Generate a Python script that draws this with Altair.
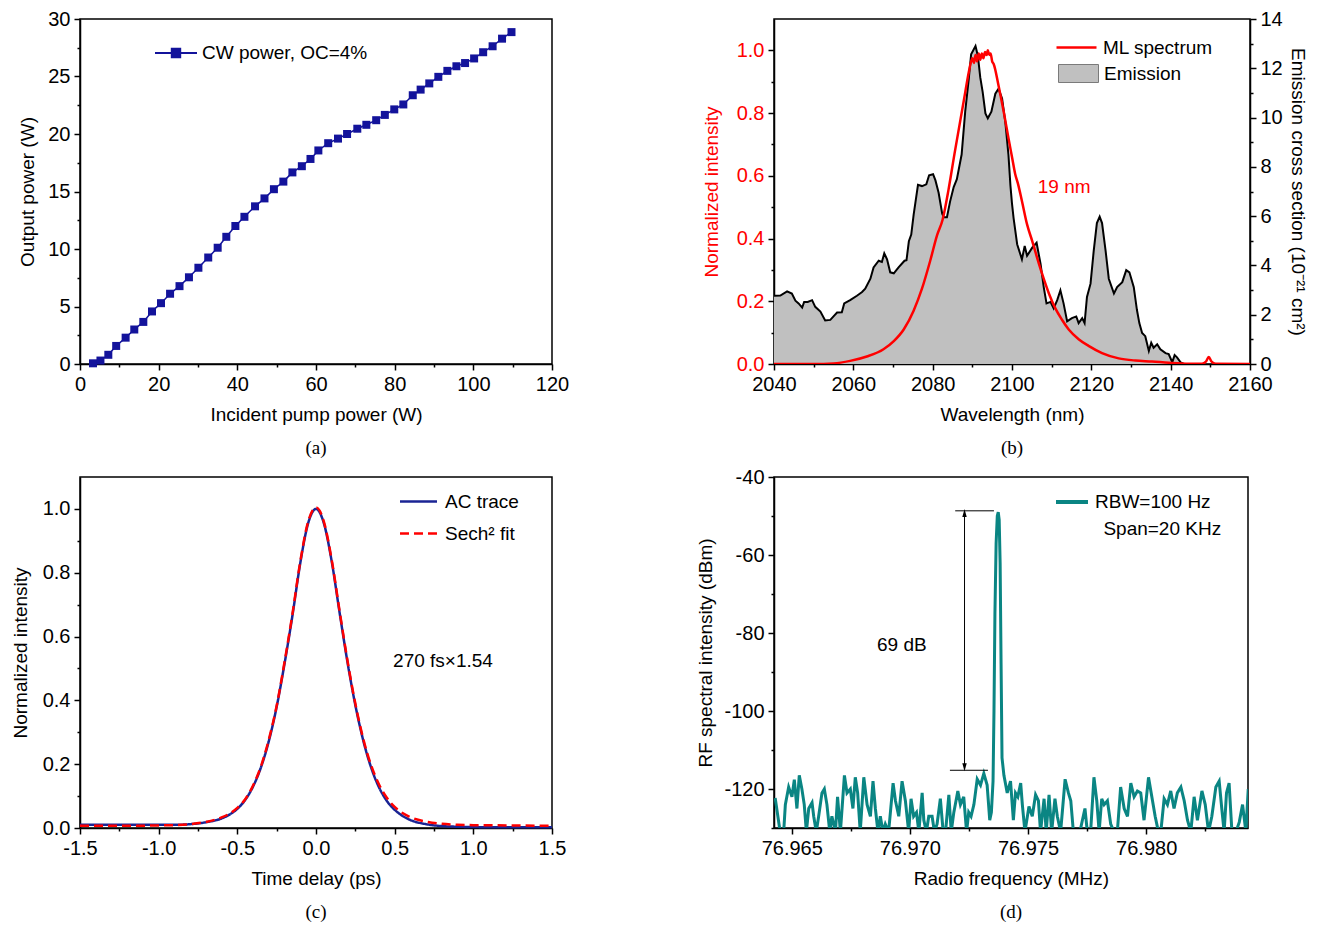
import json
import altair as alt
import pandas as pd

FONT = "Liberation Sans"
SERIF = "Liberation Serif"
NAVY_A = "#13139B"
NAVY_C = "#1A2494"
RED = "#FF0000"
TEAL = "#0A8583"
GRAY = "#C0C0C0"
FS = 19

# ---------------- (a) CW output power ----------------
pump_w = [3.3, 5.2, 7.2, 9.2, 11.6, 13.8, 16.1, 18.3, 20.6, 22.9, 25.3, 27.7, 30.1, 32.6, 35.0,
          37.2, 39.5, 41.8, 44.5, 46.9, 49.3, 51.7, 54.0, 56.4, 58.6, 60.6, 63.1, 65.6, 67.9, 70.5,
          72.8, 75.3, 77.5, 79.9, 82.2, 84.6, 86.6, 88.8, 91.1, 93.4, 95.7, 97.9, 100.2, 102.5,
          104.9, 107.3, 109.7]
out_w = [0.06, 0.3, 0.8, 1.57, 2.29, 3.0, 3.66, 4.57, 5.29, 6.11, 6.77, 7.54, 8.37, 9.26, 10.11,
         11.06, 12.0, 12.8, 13.71, 14.4, 15.2, 15.86, 16.66, 17.2, 17.83, 18.57, 19.2, 19.6, 20.0,
         20.46, 20.8, 21.2, 21.66, 22.14, 22.57, 23.37, 23.86, 24.4, 24.97, 25.49, 25.89, 26.17,
         26.57, 27.11, 27.63, 28.29, 28.86]
a_series = "CW power, OC=4%"
a_x_major = [0, 20, 40, 60, 80, 100, 120]
a_x_ticks = [0, 10, 20, 30, 40, 50, 60, 70, 80, 90, 100, 110, 120]
a_y_major = [0, 5, 10, 15, 20, 25, 30]
a_y_ticks = [0, 2.5, 5, 7.5, 10, 12.5, 15, 17.5, 20, 22.5, 25, 27.5, 30]

# ---------------- (b) spectra ----------------
em_wl = [2040.0, 2041.6, 2043.3, 2044.5, 2045.4, 2046.2, 2047.1, 2047.6, 2048.5, 2049.6, 2050.4,
         2051.7, 2052.9, 2054.2, 2055.0, 2055.9, 2057.1, 2057.7, 2059.2, 2060.9, 2062.2, 2063.0,
         2064.3, 2065.1, 2066.4, 2067.2, 2067.8, 2068.5, 2069.3, 2070.2, 2071.4, 2072.9, 2073.4,
         2074.0, 2074.6, 2075.2, 2076.3, 2077.3, 2078.4, 2079.1, 2080.1, 2080.7, 2081.5, 2082.4,
         2082.8, 2083.6, 2084.4, 2085.3, 2086.1, 2087.3, 2088.2, 2089.1, 2089.7, 2090.8, 2091.4,
         2092.0, 2092.6, 2093.3, 2093.9, 2094.8, 2095.8, 2096.6, 2097.5, 2098.3, 2099.1, 2099.6,
         2100.0, 2100.4, 2101.3, 2102.5, 2103.2, 2103.8, 2105.1, 2106.2, 2107.2, 2108.0, 2108.7,
         2109.7, 2110.5, 2111.4, 2112.2, 2113.0, 2113.9, 2115.1, 2116.2, 2116.8, 2117.7, 2118.3,
         2118.9, 2119.8, 2120.6, 2121.4, 2122.1, 2122.7, 2123.6, 2124.4, 2125.7, 2126.5, 2127.8,
         2128.8, 2129.6, 2130.7, 2131.5, 2132.1, 2132.8, 2133.6, 2134.5, 2135.1, 2135.7, 2136.6,
         2137.4, 2138.7, 2139.5, 2140.4, 2141.0, 2141.6, 2142.5, 2143.3]
em_val = [2.77, 2.78, 2.95, 2.86, 2.57, 2.46, 2.29, 2.52, 2.52, 2.59, 2.32,
          2.13, 1.77, 1.79, 1.93, 2.09, 2.10, 2.46, 2.59, 2.77, 2.92, 3.06,
          3.46, 3.92, 4.19, 4.14, 4.49, 4.25, 3.72, 3.68, 3.92, 4.19, 4.21,
          4.98, 5.25, 6.05, 7.27, 7.22, 7.29, 7.66, 7.70, 7.45, 6.95, 6.10,
          5.96, 5.96, 6.60, 7.18, 7.50, 8.50, 10.24, 11.57, 12.57, 12.90, 12.50,
          11.63, 11.04, 10.17, 9.97, 10.24, 10.97, 11.17, 10.77, 9.84, 8.50, 7.25,
          6.51, 5.92, 4.86, 4.25, 4.79, 4.39, 4.72, 4.92, 4.06, 3.12, 2.46,
          2.52, 2.26, 2.59, 2.99, 2.46, 1.73, 1.86, 1.93, 1.66, 1.86, 1.66,
          2.72, 3.26, 4.59, 5.72, 5.98, 5.72, 4.59, 3.46, 2.86, 3.12, 3.32,
          3.81, 3.72, 3.12, 2.19, 1.66, 1.26, 1.13, 0.53, 0.86, 0.66, 0.80,
          0.60, 0.44, 0.40, 0.07, 0.36, 0.27, 0.07, 0.0]
ml_wl = [2040.0, 2050.0, 2055.0, 2059.2, 2063.4, 2067.6, 2070.2, 2072.7, 2075.2, 2077.3, 2079.4,
         2081.1, 2082.5, 2084.0, 2085.5, 2087.8, 2089.1, 2089.5, 2090.0, 2090.4, 2090.8, 2091.2,
         2091.6, 2092.0, 2092.4, 2092.8, 2093.2, 2093.6, 2093.9, 2094.3, 2094.6, 2095.0, 2095.4,
         2096.6, 2097.9, 2099.1, 2100.0, 2100.8, 2101.5, 2102.5, 2103.8, 2105.1, 2106.3, 2107.6,
         2109.3, 2110.9, 2112.6, 2114.3, 2116.8, 2119.3, 2122.7, 2126.9, 2131.1, 2135.3, 2139.5,
         2144.6, 2147.9, 2148.9, 2149.6, 2150.3, 2151.3, 2160.0]
ml_val = [0.0, 0.0, 0.002, 0.01, 0.024, 0.047, 0.073, 0.11, 0.17, 0.24, 0.33,
          0.41, 0.46, 0.556, 0.67, 0.836, 0.93, 0.955, 0.975, 0.96, 0.985, 0.965,
          0.99, 0.97, 0.99, 0.975, 0.995, 0.985, 1.0, 0.985, 0.99, 0.965, 0.956,
          0.888, 0.805, 0.721, 0.66, 0.606, 0.575, 0.52, 0.445, 0.392, 0.34, 0.287,
          0.225, 0.178, 0.141, 0.110, 0.079, 0.058, 0.035, 0.018, 0.011, 0.008, 0.004,
          0.001, 0.001, 0.008, 0.022, 0.008, 0.001, 0.0]
b_x_major = [2040, 2060, 2080, 2100, 2120, 2140, 2160]
b_x_ticks = [2040, 2050, 2060, 2070, 2080, 2090, 2100, 2110, 2120, 2130, 2140, 2150, 2160]
b_yl_major = [0, 0.2, 0.4, 0.6, 0.8, 1.0]
b_yl_ticks = [0, 0.1, 0.2, 0.3, 0.4, 0.5, 0.6, 0.7, 0.8, 0.9, 1.0]
b_yr_major = [0, 2, 4, 6, 8, 10, 12, 14]
b_yr_ticks = [0, 1, 2, 3, 4, 5, 6, 7, 8, 9, 10, 11, 12, 13, 14]

# ---------------- (c) autocorrelation ----------------
ac_t = [-1.5, -1.25, -1.0, -0.9, -0.8, -0.7, -0.6, -0.55, -0.5, -0.45, -0.4, -0.35, -0.3, -0.25,
        -0.2, -0.15, -0.1, -0.05, 0.0, 0.05, 0.1, 0.15, 0.2, 0.25, 0.3, 0.35, 0.4, 0.45, 0.5,
        0.55, 0.6, 0.7, 0.8, 0.9, 1.0, 1.25, 1.5]
ac_val = [0.010, 0.010, 0.010, 0.010, 0.012, 0.018, 0.030, 0.042, 0.060, 0.088, 0.130, 0.190,
          0.272, 0.380, 0.515, 0.665, 0.830, 0.955, 1.000, 0.955, 0.835, 0.675, 0.520, 0.385,
          0.275, 0.190, 0.128, 0.085, 0.057, 0.038, 0.025, 0.012, 0.006, 0.004, 0.003, 0.002,
          0.002]
fit_val = [0.007, 0.007, 0.008, 0.009, 0.012, 0.019, 0.033, 0.045, 0.063, 0.090, 0.133, 0.193,
           0.277, 0.383, 0.520, 0.670, 0.835, 0.960, 1.005, 0.960, 0.840, 0.680, 0.525, 0.390,
           0.280, 0.197, 0.137, 0.095, 0.066, 0.047, 0.034, 0.020, 0.013, 0.010, 0.009, 0.008,
           0.007]
c_series = ["AC trace", "Sech\u00b2 fit"]
c_x_major = [-1.5, -1.0, -0.5, 0.0, 0.5, 1.0, 1.5]
c_x_ticks = [-1.5, -1.25, -1.0, -0.75, -0.5, -0.25, 0.0, 0.25, 0.5, 0.75, 1.0, 1.25, 1.5]
c_y_major = [0, 0.2, 0.4, 0.6, 0.8, 1.0]
c_y_ticks = [0, 0.1, 0.2, 0.3, 0.4, 0.5, 0.6, 0.7, 0.8, 0.9, 1.0]

# ---------------- (d) RF spectrum (offset in kHz from 76.970 MHz) ----------------
noise1_khz = [-5.70, -5.49, -5.34, -5.27, -5.13, -4.99, -4.89, -4.78, -4.68, -4.57, -4.47, -4.38,
              -4.28, -4.14, -4.07, -3.96, -3.86, -3.72, -3.62, -3.51, -3.39, -3.30, -3.15, -3.06,
              -2.94, -2.77, -2.66, -2.52, -2.41, -2.31, -2.21, -2.10, -1.95, -1.81, -1.67, -1.56,
              -1.46, -1.35, -1.25, -1.14, -1.04, -0.90, -0.71, -0.61, -0.47, -0.33, -0.19, -0.05,
              0.05, 0.16, 0.28, 0.38, 0.52, 0.59, 0.70, 0.80, 0.94, 1.04, 1.15, 1.29, 1.41, 1.51,
              1.65, 1.75, 1.86, 2.03, 2.14, 2.28, 2.40, 2.49, 2.59, 2.71, 2.85, 2.99, 3.13, 3.27,
              3.38]
noise1_dbm = [-122.3, -131, -131, -124, -119.5, -122, -117.6, -125, -116.5, -120, -124, -131,
              -125, -123.5, -127, -131, -127, -121, -120, -124, -131, -127, -131, -122,
              -131, -116.5, -121, -120, -125, -117, -121, -131, -117, -124, -127, -118,
              -125, -131, -127, -131, -129, -131, -118.5, -123, -127, -118, -123, -131,
              -122.5, -127, -126, -131, -121, -128, -131, -127, -127, -131, -129, -122.5, -131, -131,
              -121.5, -131, -126, -120.5, -124, -122, -131, -126, -127, -124, -117.5, -119, -116, -119,
              -128]
peak_khz = [3.45, 3.52, 3.56, 3.60, 3.65, 3.70, 3.74, 3.78, 3.82, 3.86, 3.90]
peak_dbm = [-126, -118, -100, -75, -57, -50, -49, -51, -62, -88, -112]
noise2_khz = [3.98, 4.12, 4.26, 4.38, 4.47, 4.57, 4.69, 4.76, 4.87, 5.04, 5.18, 5.32, 5.44, 5.53,
              5.68, 5.77, 5.89, 6.00, 6.14, 6.24, 6.38, 6.57, 6.71, 6.81, 6.92, 7.09, 7.23, 7.41,
              7.51, 7.65, 7.79, 7.91, 8.01, 8.12, 8.22, 8.36, 8.50, 8.64, 8.78, 8.92, 9.07, 9.21,
              9.35, 9.49, 9.63, 9.77, 9.91, 10.10, 10.24, 10.38, 10.52, 10.62, 10.76, 10.90, 11.04,
              11.18, 11.32, 11.47, 11.61, 11.75, 11.89, 12.03, 12.17, 12.36, 12.50, 12.64, 12.78,
              12.95, 13.09, 13.20, 13.30, 13.40, 13.51, 13.63, 13.80, 13.94, 14.08, 14.22, 14.32]
noise2_dbm = [-116.5, -121, -118, -128, -121, -122, -118.5, -124, -131, -124.5, -127, -121.5,
              -123, -131, -122.5, -131, -121.5, -131, -122.5, -127, -131, -117.5, -121, -123,
              -131, -131, -130, -125, -131, -131, -117, -123, -131, -122.5, -124, -123, -129,
              -131, -131, -119.5, -125, -127, -118.5, -122, -120.5, -121, -128, -117, -122, -127,
              -131, -131, -122.5, -124, -120.5, -125, -121, -119.5, -123, -128, -131, -122, -128,
              -120.5, -124, -131, -127, -119.5, -118, -125, -131, -121, -118.5, -131, -131,
              -128.5, -124, -131, -120]
d_series = "RBW=100 Hz"
d_x_major = [76.965, 76.970, 76.975, 76.980]
d_x_ticks = [76.965, 76.9675, 76.970, 76.9725, 76.975, 76.9775, 76.980, 76.9825]
d_y_major = [-40, -60, -80, -100, -120]
d_y_ticks = [-40, -50, -60, -70, -80, -90, -100, -110, -120, -130]
# 69 dB marker (frequency MHz, level dBm)
bar_f1 = [76.971919, 76.971695]
bar_f2 = [76.973559, 76.973305]
bar_db = [-48.67, -115.2]
arrow_f = [76.972313]
arrow_top = [-49.2]
arrow_bot = [-114.4]


def axis(values, majors, fmt, orient, title, **kw):
    test = "indexof(%s, datum.value) >= 0" % json.dumps(majors)
    lab = "replace(format(datum.value, '%s'), '\u2212', '-')" % fmt
    opts = dict(values=values, orient=orient, title=title,
                labelExpr="%s ? %s : ''" % (test, lab),
                tickSize={"condition": {"test": test, "value": 6}, "value": 3},
                labelFlush=False, labelOverlap=False, grid=False,
                labelPadding=4, titlePadding=10)
    if orient == "bottom":
        opts["titlePadding"] = 11
    opts.update(kw)
    return alt.Axis(**opts)


def caption(txt):
    return alt.TitleParams(txt, orient="bottom", anchor="middle", font=SERIF, fontSize=19,
                           fontWeight="normal", color="black", offset=15)


# ---------- panel (a) ----------
df_a = pd.DataFrame({"pump": pump_w, "out": out_w, "series": [a_series] * len(pump_w)})
xa = alt.X("pump:Q", scale=alt.Scale(domain=[0, 120], nice=False),
           axis=axis(a_x_ticks, a_x_major, "d", "bottom", "Incident pump power (W)"))
ya = alt.Y("out:Q", scale=alt.Scale(domain=[0, 30], nice=False),
           axis=axis(a_y_ticks, a_y_major, "d", "left", "Output power (W)"))
leg_a = alt.Legend(title=None, orient="none", legendX=74, legendY=12,
                   symbolType="M-1,0L1,0M-0.2,-0.2L0.2,-0.2L0.2,0.2L-0.2,0.2Z",
                   symbolSize=1764, symbolStrokeWidth=2, symbolStrokeColor=NAVY_A,
                   symbolFillColor=NAVY_A, labelOffset=4)
line_a = alt.Chart(df_a).mark_line(color=NAVY_A, strokeWidth=1.5).encode(xa, ya)
pts_a = alt.Chart(df_a).mark_point(shape="square", filled=True, size=64, opacity=1).encode(
    xa, ya, color=alt.Color("series:N", scale=alt.Scale(range=[NAVY_A]), legend=leg_a))
panel_a = alt.layer(line_a, pts_a).properties(width=472, height=345, title=caption("(a)"))

# ---------- panel (b) ----------
df_em = pd.DataFrame({"wl": em_wl, "em": em_val, "lab": ["Emission"] * len(em_wl)})
df_ml = pd.DataFrame({"wl": ml_wl, "r": ml_val, "lab": ["ML spectrum"] * len(ml_wl)})
df_bt = pd.DataFrame({"wl": [2106.5], "r": [0.564], "txt": ["19 nm"]})
xb = alt.X("wl:Q", scale=alt.Scale(domain=[2040, 2160], nice=False),
           axis=axis(b_x_ticks, b_x_major, "d", "bottom", "Wavelength (nm)"))
sc_em = alt.Scale(domain=[0, 14], nice=False, zero=True)
sc_ml = alt.Scale(domain=[0, 1.1], nice=False, zero=True)
leg_em = alt.Legend(title=None, orient="none", legendX=284, legendY=34,
                    symbolType="M-1,-0.45L1,-0.45L1,0.45L-1,0.45Z", symbolSize=1600,
                    symbolStrokeColor="#7A7A7A", symbolStrokeWidth=1, symbolFillColor=GRAY,
                    labelOffset=5)
leg_ml = alt.Legend(title=None, orient="none", legendX=281, legendY=7, symbolType="stroke",
                    symbolSize=1600, symbolStrokeWidth=2.5, labelOffset=5)
em_area = alt.Chart(df_em).mark_area(opacity=1, clip=True).encode(
    xb, alt.Y("em:Q", scale=sc_em,
              axis=axis(b_yr_ticks, b_yr_major, "d", "right",
                        "Emission cross section (10\u207b\u00b2\u00b9 cm\u00b2)", titlePadding=5)),
    fill=alt.Fill("lab:N", scale=alt.Scale(range=[GRAY]), legend=leg_em))
em_line = alt.Chart(df_em).mark_line(color="black", strokeWidth=2, clip=True).encode(
    xb, alt.Y("em:Q", scale=sc_em, axis=None))
ml_line = alt.Chart(df_ml).mark_line(strokeWidth=2.5, interpolate="monotone", clip=True).encode(
    xb, alt.Y("r:Q", scale=sc_ml,
              axis=axis(b_yl_ticks, b_yl_major, ".1f", "left", "Normalized intensity",
                        labelColor=RED, titleColor=RED, titlePadding=15)),
    color=alt.Color("lab:N", scale=alt.Scale(range=[RED]), legend=leg_ml))
txt_b = alt.Chart(df_bt).mark_text(align="left", baseline="middle", color=RED, font=FONT,
                                   fontSize=FS).encode(
    xb, alt.Y("r:Q", scale=sc_ml, axis=None), text="txt:N")
panel_b = alt.layer(em_area, em_line, ml_line, txt_b).resolve_scale(
    y="independent").properties(width=476, height=345, title=caption("(b)"))

# ---------- panel (c) ----------
n_c = len(ac_t)
df_c = pd.DataFrame({"t": ac_t + ac_t, "v": ac_val + fit_val,
                     "s": [c_series[0]] * n_c + [c_series[1]] * n_c})
df_ct = pd.DataFrame({"t": [0.49], "v": [0.523], "txt": ["270 fs\u00d71.54"]})
xc = alt.X("t:Q", scale=alt.Scale(domain=[-1.5, 1.5], nice=False),
           axis=axis(c_x_ticks, c_x_major, ".1f", "bottom", "Time delay (ps)"))
yc = alt.Y("v:Q", scale=alt.Scale(domain=[0, 1.1], nice=False),
           axis=axis(c_y_ticks, c_y_major, ".1f", "left", "Normalized intensity", titlePadding=12))
leg_c = alt.Legend(title=None, orient="none", legendX=328, legendY=14, symbolType="M-2,0L2,0",
                   symbolSize=342, symbolStrokeWidth=2.5, labelOffset=16, rowPadding=11)
line_c = alt.Chart(df_c).mark_line(strokeWidth=2.5, interpolate="monotone").encode(
    xc, yc,
    color=alt.Color("s:N", scale=alt.Scale(domain=c_series, range=[NAVY_C, RED]), legend=leg_c),
    strokeDash=alt.StrokeDash("s:N", scale=alt.Scale(domain=c_series, range=[[1, 0], [9, 5]]),
                              legend=leg_c))
txt_c = alt.Chart(df_ct).mark_text(align="left", baseline="middle", color="black", font=FONT,
                                   fontSize=FS).encode(xc, yc, text="txt:N")
panel_c = alt.layer(line_c, txt_c).properties(width=472, height=351, title=caption("(c)"))

# ---------- panel (d) ----------
offs = noise1_khz + peak_khz + noise2_khz
dbm = noise1_dbm + peak_dbm + noise2_dbm
df_d = pd.DataFrame({"f": [round(76.970 + o / 1000.0, 7) for o in offs], "db": dbm,
                     "s": [d_series] * len(offs)})
xd = alt.X("f:Q", scale=alt.Scale(domain=[76.96425, 76.98431], nice=False, zero=False),
           axis=axis(d_x_ticks, d_x_major, ".3f", "bottom", "Radio frequency (MHz)"))
yd = alt.Y("db:Q", scale=alt.Scale(domain=[-130, -40], nice=False, zero=False),
           axis=axis(d_y_ticks, d_y_major, "d", "left", "RF spectral intensity (dBm)",
                     titlePadding=8))
leg_d = alt.Legend(title=None, orient="none", legendX=280, legendY=7, symbolType="stroke",
                   symbolSize=1024, symbolStrokeWidth=4, labelOffset=5)
trace_d = alt.Chart(df_d).mark_line(strokeWidth=3, clip=True).encode(
    xd, yd, color=alt.Color("s:N", scale=alt.Scale(range=[TEAL]), legend=leg_d))
df_bars = pd.DataFrame({"f": bar_f1, "f2": bar_f2, "db": bar_db})
bars_d = alt.Chart(df_bars).mark_rule(color="black", strokeWidth=1).encode(
    x=alt.X("f:Q"), x2="f2:Q", y=alt.Y("db:Q"))
df_arrow = pd.DataFrame({"f": arrow_f, "db": arrow_top, "db2": arrow_bot})
arrow_d = alt.Chart(df_arrow).mark_rule(color="black", strokeWidth=1).encode(
    x=alt.X("f:Q"), y=alt.Y("db:Q"), y2="db2:Q")
head_up = alt.Chart(df_arrow).mark_point(shape="M0,-1L-0.55,1L0.55,1Z", filled=True, size=64,
                                         color="black", opacity=1).encode(
    x=alt.X("f:Q"), y=alt.Y("db:Q"))
head_dn = alt.Chart(df_arrow).mark_point(shape="M0,1L-0.55,-1L0.55,-1Z", filled=True, size=64,
                                         color="black", opacity=1).encode(
    x=alt.X("f:Q"), y=alt.Y("db2:Q"))
df_dt = pd.DataFrame({"f": [76.96861, 76.97819], "db": [-83.2, -53.4],
                      "txt": ["69 dB", "Span=20 KHz"]})
txt_d = alt.Chart(df_dt).mark_text(align="left", baseline="middle", color="black", font=FONT,
                                   fontSize=FS).encode(x=alt.X("f:Q"), y=alt.Y("db:Q"), text="txt:N")
panel_d = alt.layer(trace_d, bars_d, arrow_d, head_up, head_dn, txt_d).encode(xd, yd).properties(
    width=474, height=351, title=caption("(d)"))

chart = alt.concat(panel_a, panel_b, panel_c, panel_d, columns=2,
                   spacing={"row": 113, "column": 222}, bounds="flush", align="each").resolve_scale(
    color="independent", fill="independent", strokeDash="independent"
).resolve_legend(
    color="independent", fill="independent", strokeDash="independent"
).properties(
    padding={"left": 2, "top": 0, "right": 8, "bottom": 0}
).configure_view(stroke="black", strokeWidth=1.5).configure_axis(
    labelFont=FONT, labelFontSize=20, titleFont=FONT, titleFontSize=FS, titleFontWeight="normal",
    labelColor="black", titleColor="black", domainColor="black", domainWidth=1.5,
    tickColor="black", tickWidth=1.5
).configure_legend(labelFont=FONT, labelFontSize=FS, labelColor="black", padding=0,
                   labelLimit=400).configure_title(font=SERIF, fontSize=19, fontWeight="normal",
                                                   color="black")

chart.save("out.html", embed_options={"renderer": "svg", "actions": False})
